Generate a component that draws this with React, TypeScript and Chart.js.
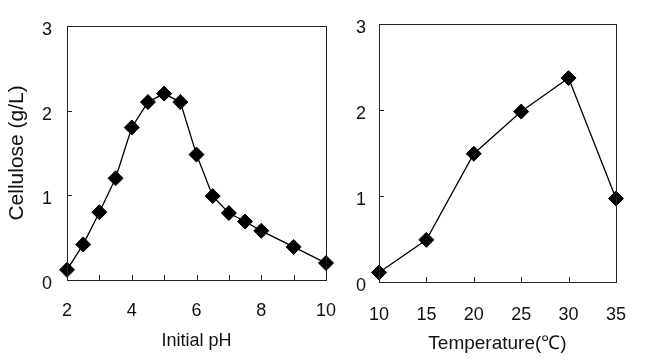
import React, { useEffect, useRef } from "react";
import { Chart, registerables } from "chart.js";

Chart.register(...registerables);

const phValues = [2, 2.5, 3, 3.5, 4, 4.5, 5, 5.5, 6, 6.5, 7, 7.5, 8, 9, 10];
const phCellulose = [0.12, 0.42, 0.8, 1.2, 1.8, 2.1, 2.2, 2.1, 1.48, 0.99, 0.79, 0.69, 0.58, 0.39, 0.2];

const tempValues = [10, 15, 20, 25, 30, 35];
const tempCellulose = [0.11, 0.49, 1.49, 1.98, 2.37, 0.97];

const yTicks = [0, 1, 2, 3];
const phTicks = [2, 3, 4, 5, 6, 7, 8, 9, 10];
const phLabelled = [2, 4, 6, 8, 10];
const tempTicks = [10, 15, 20, 25, 30, 35];

const FONT = "'Liberation Sans', Arial, sans-serif";
const W = 648;
const H = 361;

const framePlugin = {
  id: "frame",
  afterDatasetsDraw(chart: any, _args: any, opts: any) {
    const { ctx, chartArea } = chart;
    const xs = chart.scales.x;
    const ys = chart.scales.y;
    ctx.save();
    ctx.strokeStyle = "#222";
    ctx.lineWidth = 1;
    ctx.strokeRect(
      Math.round(chartArea.left) + 0.5,
      Math.round(chartArea.top) + 0.5,
      Math.round(chartArea.right - chartArea.left),
      Math.round(chartArea.bottom - chartArea.top)
    );
    ctx.beginPath();
    const xt: number[] = opts.xTicks || [];
    xt.forEach((v) => {
      const px = Math.round(xs.getPixelForValue(v)) + 0.5;
      ctx.moveTo(px, chartArea.bottom);
      ctx.lineTo(px, chartArea.bottom - 5);
    });
    const yt: number[] = opts.yTicks || [];
    yt.forEach((v) => {
      const py = Math.round(ys.getPixelForValue(v)) + 0.5;
      ctx.moveTo(chartArea.left, py);
      ctx.lineTo(chartArea.left + 5, py);
    });
    ctx.stroke();
    ctx.restore();
  },
};

function makeConfig(
  xs: number[],
  ys: number[],
  xMin: number,
  xMax: number,
  xTitle: string,
  xTitleSize: number,
  yTitle: string,
  labelled: number[],
  tickList: number[],
  pad: { left: number; right: number; top: number },
  yWidth: number,
  xHeight: number,
  yTickPad: number,
  xTickPad: number,
  xTitlePad: number
): any {
  return {
    type: "line",
    data: {
      datasets: [
        {
          data: xs.map((x, i) => ({ x, y: ys[i] })),
          borderColor: "#000",
          borderWidth: 1.3,
          backgroundColor: "#000",
          pointStyle: "rectRot",
          pointRadius: 7.5,
          pointBorderWidth: 1,
          pointBorderColor: "#000",
          pointBackgroundColor: "#000",
          tension: 0,
          clip: false,
        },
      ],
    },
    options: {
      responsive: false,
      animation: false,
      devicePixelRatio: 1,
      layout: { padding: { left: pad.left, right: pad.right, top: pad.top, bottom: 0 } },
      plugins: {
        legend: { display: false },
        tooltip: { enabled: false },
        frame: { xTicks: tickList, yTicks: yTicks },
      },
      scales: {
        x: {
          type: "linear",
          min: xMin,
          max: xMax,
          afterBuildTicks: (s: any) => {
            s.ticks = tickList.map((v) => ({ value: v }));
          },
          afterFit: (s: any) => {
            s.height = xHeight;
          },
          grid: { display: false, drawTicks: false },
          border: { display: false },
          ticks: {
            autoSkip: false,
            maxRotation: 0,
            padding: xTickPad,
            color: "#111",
            font: { family: FONT, size: 18 },
            callback: (v: any) => (labelled.includes(Number(v)) ? String(v) : ""),
          },
          title: {
            display: true,
            text: xTitle,
            color: "#111",
            font: { family: FONT, size: xTitleSize },
            padding: { top: 0, bottom: xTitlePad },
          },
        },
        y: {
          type: "linear",
          min: 0,
          max: 3,
          afterBuildTicks: (s: any) => {
            s.ticks = yTicks.map((v) => ({ value: v }));
          },
          afterFit: (s: any) => {
            s.width = yWidth;
          },
          grid: { display: false, drawTicks: false },
          border: { display: false },
          ticks: {
            padding: yTickPad,
            labelOffset: 4,
            color: "#111",
            font: { family: FONT, size: 18 },
          },
          title: {
            display: yTitle !== "",
            text: yTitle,
            color: "#111",
            font: { family: FONT, size: 21 },
            padding: { top: 5, bottom: 0 },
          },
        },
      },
    },
    plugins: [framePlugin],
  };
}

export default function App() {
  const ref1 = useRef<HTMLCanvasElement>(null);
  const ref2 = useRef<HTMLCanvasElement>(null);

  useEffect(() => {
    document.body.style.margin = "0";
    const c1 = new Chart(
      ref1.current as HTMLCanvasElement,
      makeConfig(
        phValues,
        phCellulose,
        2,
        10,
        "Initial pH",
        18,
        "Cellulose (g/L)",
        phLabelled,
        phTicks,
        { left: 0, right: W - 326, top: 13 },
        67,
        H - 280,
        15,
        20,
        9
      )
    );
    const c2 = new Chart(
      ref2.current as HTMLCanvasElement,
      makeConfig(
        tempValues,
        tempCellulose,
        10,
        35,
        "Temperature(℃)",
        19,
        "",
        tempTicks,
        tempTicks,
        { left: 339, right: W - 637, top: 16 },
        40,
        H - 282,
        13,
        22,
        6
      )
    );
    return () => {
      c1.destroy();
      c2.destroy();
    };
  }, []);

  return (
    <div style={{ position: "fixed", left: 0, top: 0, width: W, height: H, background: "#fff" }}>
      <canvas ref={ref1} width={W} height={H} style={{ position: "absolute", left: 0, top: 0 }} />
      <canvas ref={ref2} width={W} height={H} style={{ position: "absolute", left: 0, top: 0 }} />
    </div>
  );
}
